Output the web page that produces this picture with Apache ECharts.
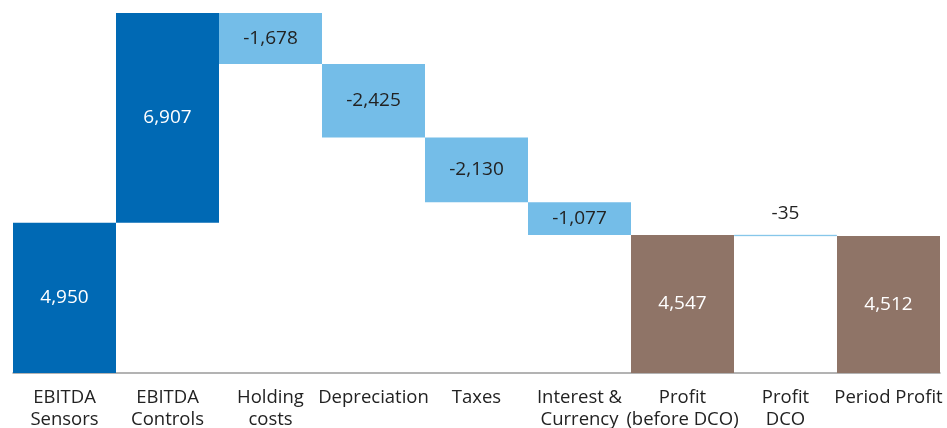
<!DOCTYPE html>
<html>
<head>
<meta charset="utf-8">
<script src="https://cdn.jsdelivr.net/npm/echarts@6/dist/echarts.min.js"></script>
<style>
  html, body { margin: 0; padding: 0; background: #fff; }
  #chart { width: 947px; height: 428px; }
</style>
</head>
<body>
<div id="chart"></div>
<script>
// categories and values
const categories = ['EBITDA\nSensors', 'EBITDA\nControls', 'Holding\ncosts', 'Depreciation', 'Taxes',
  'Interest &\nCurrency', 'Profit\n(before DCO)', 'Profit\nDCO', 'Period Profit'];
const values = [4950, 6907, -1678, -2425, -2130, -1077, 4547, -35, 4512];
const kinds = ['start', 'up', 'down', 'down', 'down', 'down', 'total', 'down', 'total'];

const colors = { start: '#0069b4', up: '#0069b4', down: '#74bde8', total: '#8f7467' };

// build invisible base + visible heights
let running = 0;
const base = [], heights = [];
values.forEach((v, i) => {
  const k = kinds[i];
  if (k === 'total') {
    base.push(0); heights.push(v); running = v;
  } else if (v >= 0) {
    base.push(running); heights.push(v); running += v;
  } else {
    base.push(running + v); heights.push(-v); running += v;
  }
});
const yMax = Math.max(...base.map((b, i) => b + heights[i]));

const chart = echarts.init(document.getElementById('chart'));
chart.setOption({
  animation: false,
  grid: { left: 13, right: 7, top: 13, bottom: 55, outerBoundsMode: 'none' },
  xAxis: {
    type: 'category',
    data: categories,
    axisLine: { lineStyle: { color: '#9a9a9a', width: 1.5 } },
    axisTick: { show: false },
    axisLabel: {
      interval: 0,
      color: '#222',
      fontSize: 18.5,
      fontFamily: 'Open Sans',
      lineHeight: 22,
      margin: 14
    }
  },
  yAxis: { type: 'value', min: 0, max: yMax, show: false, splitLine: { show: false } },
  series: [
    {
      type: 'bar',
      stack: 'wf',
      data: base,
      itemStyle: { color: 'transparent' },
      barWidth: '100%',
      silent: true
    },
    {
      type: 'bar',
      stack: 'wf',
      barWidth: '100%',
      data: heights.map((h, i) => ({
        value: h,
        itemStyle: {
          color: colors[kinds[i]],
          // thin bars get a same-colour outline so they stay visible
          borderColor: colors[kinds[i]],
          borderWidth: h < 300 ? 0.6 : 0
        },
        label: {
          position: h < 300 ? 'top' : 'inside',
          distance: 12,
          color: (kinds[i] === 'down') ? '#222' : '#fff'
        }
      })),
      label: {
        show: true,
        fontSize: 19,
        fontFamily: 'Open Sans',
        formatter: p => values[p.dataIndex].toLocaleString('en-US')
      }
    }
  ]
});
</script>
</body>
</html>
